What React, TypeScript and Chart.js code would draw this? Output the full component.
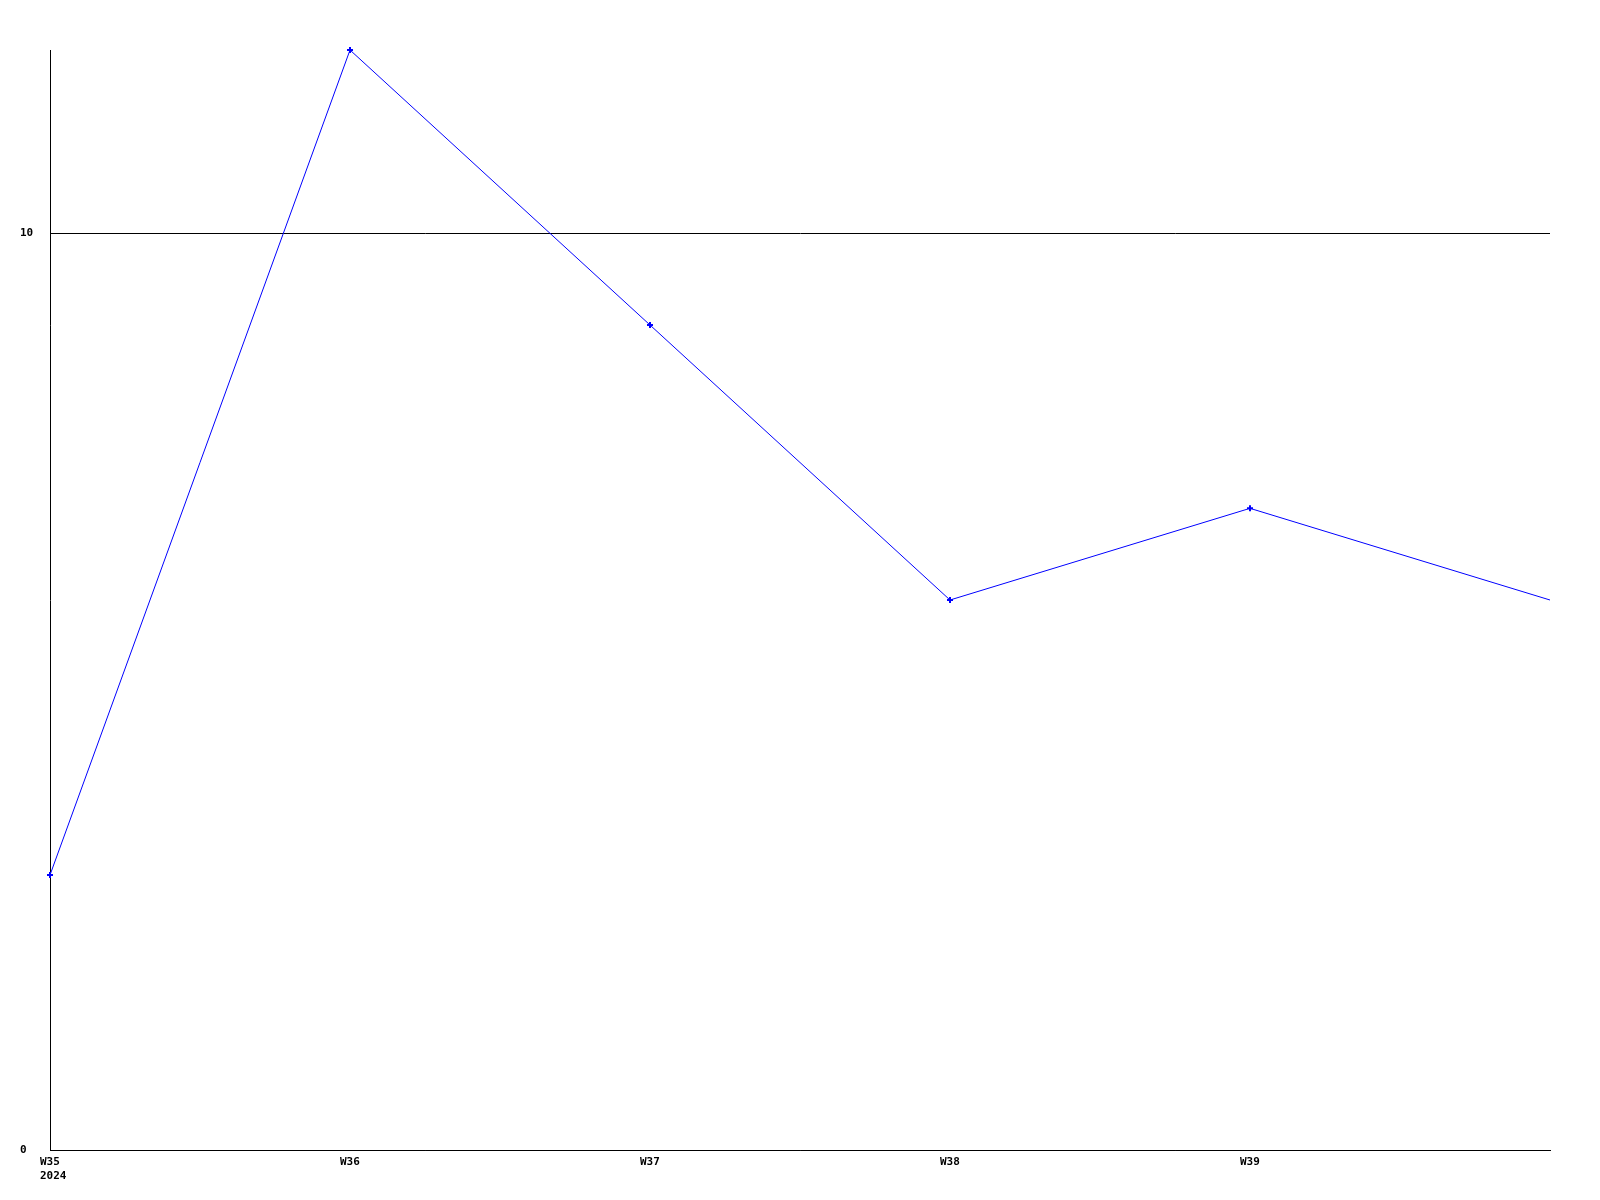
import React, { useEffect, useRef } from "react";
import { Chart, registerables } from "chart.js";

Chart.register(...registerables);

const weekLabels: (string | string[])[] = [["W35", "2024"], "W36", "W37", "W38", "W39", ""];
const seriesValues: number[] = [3, 12, 9, 6, 7, 6];
const pointSizes: number[] = [3, 3, 3, 3, 3, 0];
const yTickValues: number[] = [0, 10];

const FONT = { family: "'DejaVu Sans Mono', monospace", size: 11, weight: "bold" as const, lineHeight: "14px" };

export default function App() {
  const ref = useRef<HTMLCanvasElement | null>(null);
  useEffect(() => {
    document.body.style.margin = "0";
    const ctx = ref.current!;
    const chart = new Chart(ctx, {
      type: "line",
      data: {
        labels: weekLabels,
        datasets: [
          {
            data: seriesValues,
            borderColor: "#0000ff",
            backgroundColor: "#0000ff",
            borderWidth: 1,
            pointStyle: "cross",
            pointRadius: pointSizes,
            pointBorderWidth: 2,
            pointBorderColor: "#0000ff",
            tension: 0,
            fill: false,
            clip: false as any,
          },
        ],
      },
      options: {
        animation: false,
        responsive: false,
        maintainAspectRatio: false,
        layout: { padding: { top: 50, right: 50, left: 20, bottom: 0 } },
        plugins: { legend: { display: false }, tooltip: { enabled: false } },
        scales: {
          x: {
            type: "category",
            offset: false,
            grid: { display: false, drawTicks: false },
            border: { display: true, color: "#000", width: 1 },
            ticks: {
              color: "#000",
              font: FONT,
              autoSkip: false,
              maxRotation: 0,
              minRotation: 0,
              align: "start",
              labelOffset: -10,
              padding: 5,
            },
            afterFit: (s: any) => {
              s.height = 50;
            },
          },
          y: {
            min: 0,
            max: 12,
            grid: {
              display: true,
              drawTicks: false,
              color: "#000",
              lineWidth: 1,
            },
            border: { display: true, color: "#000", width: 1 },
            ticks: {
              color: "#000",
              font: FONT,
              crossAlign: "far",
              padding: 0,
            },
            afterBuildTicks: (s: any) => {
              s.ticks = yTickValues.map((v) => ({ value: v }));
            },
            afterFit: (s: any) => {
              s.width = 30;
            },
          },
        },
      },
    });
    return () => chart.destroy();
  }, []);
  return <canvas ref={ref} width={1600} height={1200} style={{ display: "block" }} />;
}
